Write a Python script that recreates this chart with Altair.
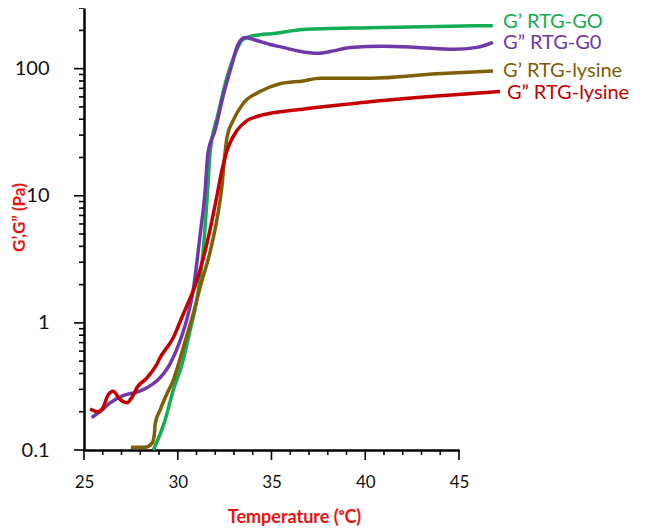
import altair as alt
import pandas as pd

# ---- data ----
series_names = ["G\u2019 RTG-GO", "G\u201d RTG-G0", "G\u2019 RTG-lysine", "G\u201d RTG-lysine"]
series_colors = ["#12AD55", "#7038A8", "#7F6008", "#C40000"]

T_green = [28.7, 29.32, 29.75, 30.23, 30.65, 31.03, 31.35, 31.61, 31.72, 32.15, 32.63, 33.05, 33.48, 34.39, 35.0, 36.7, 40.25, 46.8]
G_green = [0.1, 0.171, 0.293, 0.475, 0.86, 1.55, 3.6, 12, 21.6, 44, 86, 130, 170, 185, 188, 203, 210, 218]

T_purple = [25.41, 25.85, 26.39, 27.08, 27.72, 28.36, 28.89, 29.59, 30.12, 30.55, 30.81, 31.19, 31.45, 31.61, 31.99, 32.41, 32.89, 33.21, 33.59, 34.01, 34.92, 35.61, 36.5, 37.43, 38.3, 39.19, 40.95, 42.76, 44.68, 45.96, 46.81]
G_purple = [0.18, 0.2, 0.235, 0.268, 0.283, 0.309, 0.35, 0.476, 0.72, 1.16, 1.76, 4.88, 10.5, 21.6, 32.7, 60, 108, 155, 176, 170, 155, 147, 137, 132, 138, 147, 150, 147, 142, 147, 161]

T_olive = [27.5, 28.25, 28.63, 28.76, 28.8, 29.05, 29.43, 29.75, 30.28, 30.81, 31.19, 31.72, 32.09, 32.36, 32.52, 32.63, 32.95, 33.48, 34.39, 35.45, 36.68, 37.59, 40.25, 43.83, 46.81]
G_olive = [0.105, 0.105, 0.113, 0.136, 0.162, 0.205, 0.278, 0.35, 0.63, 1.16, 1.9, 3.6, 6.5, 12, 21.6, 29, 39, 53, 66, 76, 80, 84, 84, 91, 96]

T_red = [25.32, 25.75, 26.01, 26.28, 26.55, 26.92, 27.29, 27.56, 27.83, 28.36, 28.89, 29.05, 29.75, 30.28, 30.65, 30.81, 31.35, 31.72, 32.09, 32.36, 32.6, 33.16, 33.69, 34.39, 35.45, 36.68, 40.25, 43.83, 47.19]
G_red = [0.21, 0.2, 0.215, 0.27, 0.29, 0.25, 0.235, 0.26, 0.31, 0.37, 0.475, 0.53, 0.76, 1.16, 1.55, 1.76, 3.18, 5.4, 10, 16, 22, 32.7, 39, 42.7, 45.8, 48, 55, 61, 66]

label_T = [47.35, 47.35, 47.35, 47.56]
label_G = [232, 158, 96, 64]

y_major = [0.1, 1, 10, 100]
y_minor = [round(k * 0.1, 1) for k in range(2, 10)] + list(range(2, 10)) + list(range(20, 100, 10)) + [200, 300]
x_major = [25, 30, 35, 40, 45]
x_minor = [v for v in range(25, 46) if v % 5 != 0]

W, H = 375, 442
T0, T1 = 25, 45
G0, G1 = 0.1, 300

# ---- tables ----
rows = []
for name, Ts, Gs in zip(series_names, [T_green, T_purple, T_olive, T_red], [G_green, G_purple, G_olive, G_red]):
    for t, g in zip(Ts, Gs):
        rows.append({"T": t, "G": g, "series": name})
df = pd.DataFrame(rows)
lab = pd.DataFrame({"T": label_T, "G": label_G, "series": series_names, "text": series_names})

# tick segments: each tick is a two-point line, its length (in px) turned into data units
px_per_T = W / (T1 - T0)
px_per_dec = H / 3.4771  # log10(300 / 0.1)

tick_rows = []
for kind, vals, length in [("ymaj", y_major, 10), ("ymin", y_minor, 5)]:
    for v in vals:
        tid = f"{kind}{v}"
        tick_rows.append({"id": tid, "kind": kind, "T": T0 - length / px_per_T, "G": v, "o": 0})
        tick_rows.append({"id": tid, "kind": kind, "T": T0, "G": v, "o": 1})
for kind, vals, length in [("xmaj", x_major, 10), ("xmin", x_minor, 5)]:
    for v in vals:
        tid = f"{kind}{v}"
        tick_rows.append({"id": tid, "kind": kind, "T": v, "G": G0, "o": 0})
        tick_rows.append({"id": tid, "kind": kind, "T": v, "G": G0 * 10 ** (-length / px_per_dec), "o": 1})
ticks_df = pd.DataFrame(tick_rows)

color = alt.Color("series:N", scale=alt.Scale(domain=series_names, range=series_colors), legend=None)
x_scale = alt.Scale(domain=[T0, T1], nice=False, zero=False)
y_scale = alt.Scale(type="log", domain=[G0, G1], nice=False)

x_axis = alt.Axis(
    orient="bottom", values=x_major, format="d", ticks=False,
    grid=False, domainColor="#000000", domainWidth=2.5,
    labelFont="Lato", labelFontSize=17, labelColor="#111111", labelPadding=24, labelOverlap=False,
    labelFlush=False,
    title="Temperature (\u1d52C)", titleFont="Lato", titleFontSize=18, titleFontWeight="bold",
    titleColor="#EE1111", titleX=210, titleY=67, titleAlign="center", titleBaseline="middle",
)
y_axis = alt.Axis(
    orient="left", values=y_major, format="~g", ticks=False,
    grid=False, domainColor="#000000", domainWidth=2.5,
    labelFont="Lato", labelFontSize=20, labelColor="#111111", labelPadding=35, labelOverlap=False,
    labelFlush=False,
    title="G\u2019,G\u201d (Pa)", titleFont="Lato", titleFontSize=17, titleFontWeight="bold",
    titleColor="#EE1111", titleX=-65, titleY=209, titleAngle=270, titleAlign="center", titleBaseline="middle",
)

lines = alt.Chart(df).mark_line(strokeWidth=3.5, interpolate="monotone").encode(
    x=alt.X("T:Q", scale=x_scale, axis=x_axis),
    y=alt.Y("G:Q", scale=y_scale, axis=y_axis),
    color=color,
)
texts = alt.Chart(lab).mark_text(align="left", baseline="middle", font="Lato", fontSize=20).encode(
    x=alt.X("T:Q", scale=x_scale, axis=None),
    y=alt.Y("G:Q", scale=y_scale, axis=None),
    text="text:N",
    color=color,
)
ticks = alt.Chart(ticks_df).mark_line(color="black", strokeWidth=1.6).encode(
    x=alt.X("T:Q", scale=x_scale, axis=None),
    y=alt.Y("G:Q", scale=y_scale, axis=None),
    detail="id:N",
    order="o:Q",
)

chart = alt.layer(lines, texts, ticks).resolve_axis(
    x="independent", y="independent"
).properties(
    width=W, height=H,
    autosize=alt.AutoSizeParams(type="none"),
    padding={"left": 76, "top": 0, "right": 175, "bottom": 78},
).configure_view(stroke=None)

chart.save("out.html", embed_options={"renderer": "svg", "actions": False})
